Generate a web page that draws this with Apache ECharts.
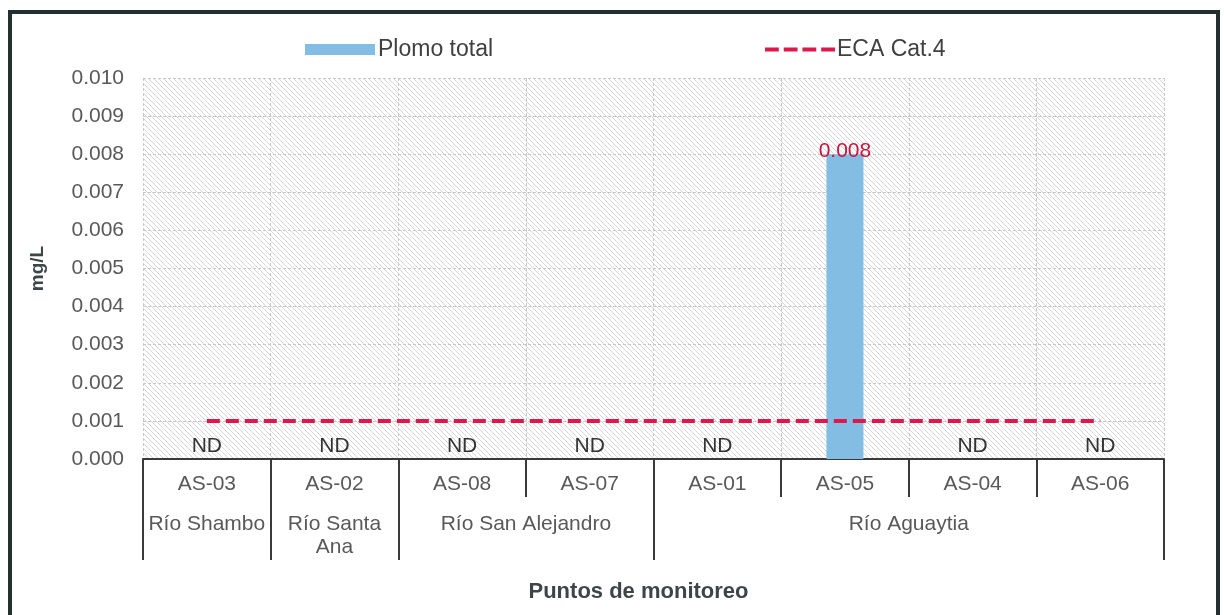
<!DOCTYPE html>
<html>
<head>
<meta charset="utf-8">
<script src="https://cdn.jsdelivr.net/npm/echarts@6/dist/echarts.min.js"></script>
<style>
  html, body { margin: 0; padding: 0; background: #fff; }
  #chart { width: 1224px; height: 615px; }
</style>
</head>
<body>
<div id="chart"></div>
<script>
// puntos de monitoreo
const stations = ['AS-03', 'AS-02', 'AS-08', 'AS-07', 'AS-01', 'AS-05', 'AS-04', 'AS-06'];
// ríos y cuántos puntos abarca cada uno
const rivers = ['Río Shambo', 'Río Santa\nAna', 'Río San Alejandro', 'Río Aguaytia'];
const riverSpans = [1, 1, 2, 4];
// Plomo total (0 = ND, no detectado)
const plomoTotal = [0, 0, 0, 0, 0, 0.008, 0, 0];
// ECA categoría 4
const ecaCat4 = [0.001, 0.001, 0.001, 0.001, 0.001, 0.001, 0.001, 0.001];
// eje y
const yMin = 0, yMax = 0.010, yStep = 0.001;

// límites y centros de cada grupo en unidades de categoría
const riverBounds = [0];
const riverCenters = [];
riverSpans.forEach(function (n) {
  const start = riverBounds[riverBounds.length - 1];
  riverCenters.push(start + n / 2);
  riverBounds.push(start + n);
});

// trama diagonal del fondo del área de trazado
function hatch() {
  const c = document.createElement('canvas');
  c.width = 5; c.height = 5;
  const g = c.getContext('2d');
  g.fillStyle = '#ffffff';
  g.fillRect(0, 0, 5, 5);
  g.strokeStyle = '#d6d6d6';
  g.lineWidth = 1;
  g.beginPath();
  g.moveTo(-1, -1); g.lineTo(6, 6);
  g.moveTo(-1, 4); g.lineTo(1, 6);
  g.moveTo(4, -1); g.lineTo(6, 1);
  g.stroke();
  return c;
}

const chart = echarts.init(document.getElementById('chart'));
const font = 'Liberation Sans, Arial, sans-serif';
const red = '#e0174a';
// icono de la leyenda: cuatro guiones
const dashIcon = 'path://M0,0h14v4h-14z M19,0h14v4h-14z M38,0h14v4h-14z M57,0h14v4h-14z';

const option = {
  animation: false,
  textStyle: { fontFamily: font },
  graphic: [{
    type: 'rect',
    shape: { x: 10, y: 12, width: 1208, height: 640 },
    style: { fill: 'none', stroke: '#243030', lineWidth: 4 },
    z: 100
  }],
  legend: [{
    top: 33,
    left: 300,
    itemWidth: 70,
    itemHeight: 11,
    textStyle: { fontSize: 23, color: '#404040', fontFamily: font, padding: [0, 0, 0, -2] },
    data: [{ name: 'Plomo total', icon: 'rect' }]
  }, {
    top: 33,
    left: 760,
    itemWidth: 70,
    itemHeight: 11,
    textStyle: { fontSize: 23, color: '#404040', fontFamily: font, padding: [0, 0, 0, -3] },
    data: [{ name: 'ECA Cat.4', icon: dashIcon, itemStyle: { color: red } }]
  }],
  grid: {
    left: 143,
    right: 60,
    top: 78,
    bottom: 156,
    show: true,
    borderWidth: 0,
    backgroundColor: { image: hatch(), repeat: 'repeat' }
  },
  xAxis: [{
    type: 'category',
    data: stations,
    position: 'bottom',
    axisLine: { lineStyle: { color: '#3a3a3a', width: 2 } },
    axisTick: { show: true, interval: 0, length: 38, lineStyle: { color: '#3a3a3a', width: 2 } },
    axisLabel: { fontSize: 21, color: '#595959', margin: 15 },
    splitLine: { show: true, interval: 0, lineStyle: { color: '#c8c8c8', type: [3, 2] } }
  }, {
    type: 'value',
    min: 0,
    max: stations.length,
    position: 'bottom',
    offset: 38,
    name: 'Puntos de monitoreo',
    nameLocation: 'middle',
    nameGap: 84,
    nameTextStyle: { fontSize: 22, fontWeight: 'bold', color: '#3d4646', padding: [0, 30, 0, 0] },
    axisLine: { show: false },
    axisTick: { show: true, length: 63, customValues: riverBounds, lineStyle: { color: '#3a3a3a', width: 2 } },
    axisLabel: {
      customValues: riverCenters,
      fontSize: 21,
      color: '#595959',
      lineHeight: 23,
      margin: 16,
      verticalAlign: 'top',
      formatter: function (v) {
        const i = riverCenters.indexOf(v);
        return i >= 0 ? rivers[i] : '';
      }
    },
    splitLine: { show: false }
  }],
  yAxis: {
    type: 'value',
    min: yMin,
    max: yMax,
    interval: yStep,
    name: 'mg/L',
    nameLocation: 'middle',
    nameGap: 96,
    nameTextStyle: { fontSize: 19, fontWeight: 'bold', color: '#3d4646' },
    axisLine: { show: false },
    axisTick: { show: false },
    axisLabel: {
      fontSize: 21,
      color: '#595959',
      margin: 19,
      formatter: function (v) { return v.toFixed(3); }
    },
    splitLine: { lineStyle: { color: '#c8c8c8', type: [3, 2] } }
  },
  series: [{
    name: 'Plomo total',
    type: 'bar',
    barWidth: 37,
    itemStyle: { color: '#84bde3' },
    label: {
      show: true,
      position: 'top',
      distance: 2,
      fontSize: 21,
      color: '#333333',
      formatter: function (p) { return p.value === 0 ? 'ND' : p.value.toFixed(3); }
    },
    // etiqueta del valor detectado en rojo
    data: plomoTotal.map(function (v) {
      return v === 0 ? v : { value: v, label: { color: '#c8143c', distance: -8 } };
    })
  }, {
    name: 'ECA Cat.4',
    type: 'line',
    data: ecaCat4,
    symbol: 'none',
    z: 5,
    lineStyle: { color: red, width: 4, type: [13, 6] },
    itemStyle: { color: red }
  }]
};

chart.setOption(option);
</script>
</body>
</html>
